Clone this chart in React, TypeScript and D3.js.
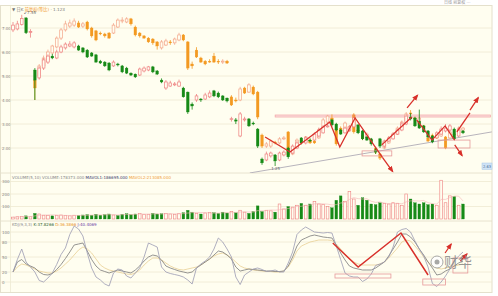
import React from 'react';
import * as d3 from 'd3';

type C = [number, number, number, number] | null; // [open, high, low, close]

// Stock candles (green = down, pink hollow = up)
const stockCandles: C[] = [
  [6.92,7.25,6.83,7.12],[6.96,7.3,6.9,7.17],[7.15,7.55,7.1,7.4],[7.42,7.45,6.75,6.8],[6.83,6.95,6.6,6.85],
  [5.25,5.33,4.0,4.83],[4.92,5.4,4.85,5.33],[5.33,5.75,5.25,5.67],[5.58,5.9,5.5,5.83],[5.83,5.92,5.7,5.75],
  [5.75,6.1,5.7,6.0],[6.0,6.3,5.95,6.21],[6.17,6.4,6.1,6.33],[6.25,6.45,6.2,6.33],[6.21,6.45,6.15,6.38],
  [6.25,6.3,6.05,6.08],[6.17,6.2,5.95,6.0],[6.08,6.12,5.75,5.79],[5.96,6.0,5.8,5.83],[5.88,5.92,5.55,5.58],
  [5.62,5.67,5.5,5.54],[5.58,5.62,5.38,5.42],[5.54,5.58,5.2,5.25],[5.42,5.65,5.38,5.58],[5.5,5.55,5.4,5.46],
  [5.42,5.46,5.12,5.17],[5.33,5.38,5.08,5.12],[5.12,5.15,5.0,5.04],[5.08,5.1,4.92,4.96],[5.04,5.35,5.0,5.29],
  [5.21,5.4,5.15,5.33],[5.25,5.42,5.2,5.38],[5.38,5.42,5.12,5.17],[5.21,5.25,5.04,5.08],[4.83,4.9,4.7,4.75],
  [4.5,4.83,4.42,4.75],[4.58,4.8,4.55,4.71],[4.63,4.75,4.58,4.67],[4.58,4.85,4.55,4.75],[4.5,4.55,4.1,4.13],
  [4.33,4.35,3.42,3.5],[3.83,3.9,3.6,3.75],[4.0,4.25,3.92,4.17],[4.04,4.08,3.92,4.0],[4.04,4.3,4.0,4.21],
  [4.13,4.4,4.08,4.29],[4.38,4.42,4.12,4.17],[4.29,4.35,4.08,4.13],[4.17,4.2,3.96,4.0],[4.08,4.1,3.9,3.96],
  [3.2,3.3,3.1,3.22],[3.17,3.25,3.0,3.12],[2.5,3.5,2.45,3.42],[3.17,3.3,3.1,3.21],[3.21,3.25,2.88,2.92],
  [3.04,3.1,2.95,3.0],[2.79,2.83,2.0,2.08],[1.54,1.6,1.3,1.38],[1.5,1.85,1.45,1.75],[1.67,1.85,1.6,1.79],
  [1.71,1.75,1.25,1.46],[1.5,1.85,1.45,1.79],[1.71,1.9,1.65,1.83],[2.0,2.05,1.55,1.63],[1.79,2.15,1.75,2.08],
  [2.0,2.3,1.95,2.21],[2.42,2.45,2.15,2.21],[2.21,2.5,2.15,2.42],[2.33,2.4,2.25,2.29],[2.33,2.65,2.3,2.58],
  [2.5,2.85,2.45,2.75],[2.63,2.95,2.6,2.88],[2.88,3.0,2.85,2.92],[3.17,3.2,2.9,2.96],[3.0,3.05,2.7,2.75],
  [2.75,2.8,2.55,2.58],[2.63,2.9,2.6,2.83],[2.75,2.95,2.7,2.88],[2.88,3.4,2.85,3.25],[2.96,3.0,2.58,2.63],
  [2.71,2.75,2.33,2.38],[2.46,2.5,2.3,2.33],[2.38,2.42,2.1,2.17],[1.92,2.0,1.75,1.83],[2.38,2.42,2.0,2.08],
  [2.08,2.35,2.0,2.29],[2.29,2.5,2.25,2.42],[2.38,2.65,2.35,2.58],[2.58,2.8,2.55,2.75],[2.75,3.1,2.7,3.0],
  [3.0,3.42,2.95,3.33],[3.29,3.45,3.15,3.21],[3.25,3.3,2.88,2.92],[3.12,3.6,2.8,2.83],[2.92,2.96,2.63,2.67],
  [2.71,2.75,2.42,2.46],[2.5,2.54,2.2,2.25],[2.42,2.7,2.38,2.63],[2.58,2.9,2.55,2.79],[2.71,3.0,2.65,2.83],
  [2.75,3.0,2.7,2.92],[2.79,2.85,2.33,2.38],[2.5,2.85,2.45,2.75],[2.71,2.75,2.58,2.63],
];

// Overlay candles (orange = down, salmon hollow = up)
const overlayCandles: C[] = [
  null,null,null,null,null,
  [4.83,4.9,4.0,4.5],[5.0,5.5,4.9,5.42],[5.42,5.85,5.35,5.75],[5.67,6.1,5.6,6.0],[5.96,6.3,5.9,6.25],
  [6.21,6.65,6.15,6.58],[6.58,7.0,6.5,6.92],[6.92,7.3,6.85,7.17],[7.08,7.35,7.0,7.21],[7.12,7.4,7.05,7.29],
  [7.21,7.3,7.0,7.04],[7.08,7.25,7.0,7.17],[7.25,7.3,6.9,6.96],[7.0,7.05,6.6,6.67],[6.88,6.92,6.45,6.5],
  [6.79,6.85,6.7,6.75],[6.75,6.8,6.6,6.67],[6.79,6.83,6.55,6.58],[6.79,7.2,6.75,7.12],[7.04,7.4,7.0,7.33],
  [7.29,7.45,7.2,7.33],[7.25,7.45,7.2,7.38],[7.38,7.42,7.1,7.17],[7.04,7.1,6.65,6.71],[6.79,6.83,6.6,6.67],
  [6.67,6.7,6.55,6.58],[6.58,6.62,6.38,6.42],[6.54,6.58,6.3,6.38],[6.42,6.45,6.1,6.25],[6.17,6.5,6.1,6.42],
  [6.29,6.55,6.25,6.46],[6.42,6.5,6.3,6.38],[6.38,6.6,6.3,6.54],[6.5,6.8,6.45,6.71],[6.71,6.75,6.45,6.5],
  [6.42,6.45,5.25,5.33],[5.5,5.6,5.3,5.42],[6.08,6.2,5.75,5.79],[5.75,5.8,5.55,5.58],[5.62,5.66,5.45,5.5],
  [5.62,5.7,5.55,5.58],[5.83,5.96,5.55,5.58],[5.62,5.7,5.5,5.58],[5.58,5.7,5.5,5.62],[5.62,5.67,5.5,5.54],
  [4.13,4.2,3.75,3.79],[4.0,4.1,3.9,3.96],[4.0,4.55,3.95,4.46],[4.5,4.55,4.25,4.29],[4.33,4.7,4.3,4.63],
  [4.54,4.6,4.2,4.25],[4.33,4.38,3.2,3.29],[2.54,2.6,2.0,2.08],[2.08,2.25,2.0,2.17],[2.08,2.35,2.0,2.29],
  [2.25,2.3,2.15,2.21],[2.21,2.45,2.15,2.38],[2.38,2.5,2.33,2.42],[2.67,2.7,1.63,1.71],[1.75,2.1,1.7,2.04],
  [2.04,2.4,2.0,2.33],[2.33,2.4,2.25,2.29],[2.25,2.5,2.2,2.46],[2.33,2.38,2.17,2.21],[2.29,2.33,2.17,2.21],
  [2.42,2.83,2.38,2.75],[2.83,3.25,2.8,3.17],[3.08,3.38,3.04,3.33],[3.25,3.4,3.1,3.17],[2.79,2.85,2.1,2.17],
  [2.83,2.9,2.67,2.71],[2.83,3.1,2.79,3.04],[2.71,2.95,2.67,2.88],[3.38,3.45,2.6,2.67],[2.75,2.8,2.65,2.71],
  [2.54,2.6,2.33,2.38],[2.42,2.65,2.38,2.58],[2.33,2.4,2.25,2.29],[2.0,2.05,1.75,1.83],[1.75,1.8,1.5,1.58],
  [2.0,2.3,1.95,2.21],[2.21,2.45,2.17,2.38],[2.46,2.65,2.42,2.58],[2.58,2.9,2.54,2.83],[2.88,3.15,2.83,3.08],
  [3.13,3.5,3.08,3.42],[3.46,3.58,3.38,3.42],[3.25,3.3,3.15,3.21],[3.0,3.3,2.96,3.25],[2.92,2.96,2.83,2.88],
  [2.42,2.46,2.25,2.29],[2.54,2.6,2.46,2.5],[2.54,2.58,2.38,2.42],[2.5,2.8,2.46,2.71],[2.46,2.5,1.95,2.0],
  [2.42,2.75,2.38,2.67],[2.58,2.62,2.5,2.54],[2.63,2.9,2.6,2.83],[2.75,2.88,2.7,2.83],
];

const volumes: number[] = [
  15,18,20,25,18,45,40,30,28,25,30,32,28,25,30,28,32,35,30,38,
  30,35,40,32,28,38,42,35,40,45,35,38,45,40,42,45,40,38,42,50,
  70,55,45,40,48,52,50,45,55,48,60,50,70,55,45,60,105,60,70,65,
  55,120,80,100,95,110,125,110,120,140,120,115,100,90,150,185,140,220,160,110,
  170,150,120,115,130,125,120,130,125,110,200,160,130,120,130,115,120,110,310,130,
  185,180,110,120,
];

const kValues: number[] = [
  20,40,45,36,32,28,20,15,14,17,25,35,47,60,74,76,78,62,45,32,
  24,21,18,21,24,22,20,18,24,32,42,50,54,52,44,32,28,25,22,20,
  18,20,28,34,40,46,54,62,60,54,46,30,22,24,26,25,24,23,22,22,
  21,21,22,32,50,72,84,88,92,94,92,90,89,88,74,58,44,32,28,26,
  24,24,24,28,34,40,52,66,80,96,96,90,80,66,54,40,28,14,16,22,
  26,32,38,42,
];
const dValues: number[] = [
  20,30,36,34,30,26,22,20,18,18,22,28,36,44,54,64,70,66,58,46,
  34,28,24,22,20,18,16,15,18,24,34,42,48,48,44,38,32,28,25,24,
  26,28,30,34,40,46,52,56,58,54,48,40,32,28,26,24,23,22,21,21,
  20,20,22,30,44,62,72,76,80,82,84,84,84,83,76,66,56,46,40,36,
  34,34,34,34,36,40,48,58,68,80,84,82,72,62,50,40,32,28,26,28,
  30,32,34,36,
];
const jValues: number[] = [
  20,45,66,40,30,20,3,0,8,18,35,55,68,95,112,106,92,58,28,10,
  4,-4,-8,18,26,24,12,8,18,28,50,78,74,70,30,20,17,15,13,10,
  4,-4,28,36,42,50,66,88,80,66,50,10,-5,14,20,26,28,25,21,22,
  24,20,20,38,60,95,104,110,105,100,99,98,99,98,72,45,18,12,10,10,
  1,6,16,33,36,40,50,70,100,105,107,100,82,66,52,30,-3,-9,0,12,
  26,42,52,60,
];

const priceTicks = [7, 6, 5, 4, 3, 2];
const volTicks = [100, 200, 300];
const kdjTicks = [0, 20, 50, 80, 100];

// annotation drawings, in (index, value) coordinates
const mainPolylines: [number, number][][] = [
  [[57.7,2.46],[63.4,1.83],[72.5,3.08],[74.8,2.04],[78.3,3.25],[84.6,1.6]],
  [[84.4,2.13],[91.3,3.29]],
  [[92.4,3.17],[95.9,2.33],[98.9,2.92],[101.1,2.33]],
  [[101.6,2.67],[104.6,3.46]],
];
const mainArrows: [number, number][][] = [
  [[84.6,1.6],[86.9,1.02]],
  [[90.2,3.67],[92.6,4.2]],
  [[101.1,2.13],[102.8,1.68]],
  [[104.6,3.58],[106.5,4.1]],
];
const mainBoxes: [number, number][][] = [
  [[79.9,1.88],[86.7,1.67]],
  [[97.3,2.33],[104.6,2.0]],
];
const resistanceBand: [number, number][] = [[60, 3.375], [109.3, 3.29]];
const supportLine: [number, number][] = [[54.2, 0.96], [109.6, 2.67]];

const kdjPolylines: [number, number][][] = [
  [[73.2,78],[79,30],[88.8,98],[95,14]],
];
const kdjArrows: [number, number][][] = [
  [[98.9,58],[100.3,76]],
  [[102.4,42],[103.9,56]],
];
const kdjBoxes: [number, number][][] = [
  [[73.7,16],[86.5,8]],
  [[93.8,6],[99,-6]],
  [[100.7,48],[104.1,18]],
];

const BG = '#fffef0';
const GRID = '#efead2';
const STOCK_UP = '#ee8080';
const STOCK_DN = '#178a17';
const OVL_UP = '#f4a68a';
const OVL_DN = '#f39a22';
const RED = '#d8302a';
const FONT = '"DejaVu Sans", "Noto Sans CJK SC", sans-serif';

const n = stockCandles.length;
const x = d3.scaleLinear().domain([0, n - 1]).range([13, 463]);
const yP = d3.scaleLinear().domain([7, 2]).range([28, 148]);
const yV = d3.scaleLinear().domain([0, 300]).range([219, 181.5]);
const yK = d3.scaleLinear().domain([0, 100]).range([282, 232]);

function Candles({ data, up, down }: { data: C[]; up: string; down: string }) {
  return (
    <g>
      {data.map((d, i) => {
        if (!d) return null;
        const [o, h, l, c] = d;
        const cx = x(i);
        const isUp = c >= o;
        const col = isUp ? up : down;
        const top = yP(Math.max(o, c));
        const bot = yP(Math.min(o, c));
        return (
          <g key={i}>
            <line x1={cx} x2={cx} y1={yP(h)} y2={yP(l)} stroke={col} strokeWidth={0.8} />
            <rect x={cx - 1.35} y={top} width={2.7} height={Math.max(bot - top, 0.8)}
              fill={isUp ? BG : col} stroke={col} strokeWidth={isUp ? 0.7 : 0.3} />
          </g>
        );
      })}
    </g>
  );
}

export default function App() {
  const mainLine = d3.line<[number, number]>().x(d => x(d[0])).y(d => yP(d[1]));
  const kdjLine = d3.line<[number, number]>().x(d => x(d[0])).y(d => yK(d[1]));
  const kdjSeries = (vals: number[]) => d3.line<number>().x((_, i) => x(i)).y(v => yK(v))(vals) || '';
  const volMA = volumes.map((_, i) => d3.mean(volumes.slice(Math.max(0, i - 4), i + 1)) as number);
  const volMAPath = d3.line<number>().x((_, i) => x(i)).y(v => yV(v)).curve(d3.curveLinear)(volMA) || '';

  const maxIdx = d3.maxIndex(stockCandles, d => (d ? d[1] : -Infinity));
  const minIdx = d3.minIndex(stockCandles, d => (d ? d[2] : Infinity));
  const maxC = stockCandles[maxIdx]!;
  const minC = stockCandles[minIdx]!;

  const box = (b: [number, number][], ys: (v: number) => number, key: number, stroke: string, fill = 'none') => {
    const x0 = x(b[0][0]), x1 = x(b[1][0]);
    const y0 = ys(b[0][1]), y1 = ys(b[1][1]);
    return <rect key={key} x={Math.min(x0, x1)} y={Math.min(y0, y1)} width={Math.abs(x1 - x0)}
      height={Math.abs(y1 - y0)} fill={fill} stroke={stroke} strokeWidth={0.8} />;
  };

  return (
    <svg width={498} height={296} style={{ position: 'fixed', left: 0, top: 0, fontFamily: FONT }}>
      <defs>
        <marker id="ah" viewBox="0 0 10 10" refX="8" refY="5" markerWidth="5" markerHeight="5" orient="auto-start-reverse">
          <path d="M0,1 L10,5 L0,9 z" fill={RED} />
        </marker>
        <clipPath id="mainClip"><rect x={1} y={6} width={491} height={167} /></clipPath>
        <clipPath id="kdjClip"><rect x={1} y={222} width={491} height={70} /></clipPath>
      </defs>
      <rect x={0} y={0} width={498} height={296} fill="#ffffff" />
      <rect x={0.5} y={5.5} width={491.5} height={287} fill={BG} stroke="#e4e0cc" strokeWidth={1} />
      <text x={444} y={4} fontSize={4} fill="#999">日线  前复权  ⋯</text>

      {/* main grid */}
      {priceTicks.map(t => (
        <g key={t}>
          <line x1={1} x2={492} y1={yP(t)} y2={yP(t)} stroke={GRID} strokeWidth={0.8} />
          <text x={2} y={yP(t) + 1.5} fontSize={4} fill="#888">{t.toFixed(2)}</text>
        </g>
      ))}
      <line x1={10.5} x2={10.5} y1={6} y2={292} stroke="#ebe6cf" strokeWidth={0.7} />
      <line x1={1} x2={492} y1={173} y2={173} stroke="#e2ddc6" strokeWidth={0.8} />
      <line x1={1} x2={492} y1={221} y2={221} stroke="#e2ddc6" strokeWidth={0.8} />

      <text x={12} y={10.5} fontSize={4.2} fill="#777">
        ▼ 日K <tspan fill="#f0952a">前复权(等比)</tspan> · 1.123
      </text>

      <g clipPath="url(#mainClip)">
        <rect x={x(resistanceBand[0][0])} y={yP(resistanceBand[0][1])}
          width={x(resistanceBand[1][0]) - x(resistanceBand[0][0])}
          height={yP(resistanceBand[1][1]) - yP(resistanceBand[0][1])}
          fill="#fbdede" stroke="#f2a4a4" strokeWidth={0.7} />
        <path d={mainLine(supportLine) || ''} stroke="#b8b4bc" strokeWidth={1} fill="none" />
        <Candles data={overlayCandles} up={OVL_UP} down={OVL_DN} />
        <Candles data={stockCandles} up={STOCK_UP} down={STOCK_DN} />
        {mainBoxes.map((b, i) => box(b, yP, i, '#e69a9a'))}
        {mainPolylines.map((p, i) => (
          <path key={i} d={mainLine(p) || ''} stroke={RED} strokeWidth={1.3} fill="none" />
        ))}
        {mainArrows.map((p, i) => (
          <path key={i} d={mainLine(p) || ''} stroke={RED} strokeWidth={1.3} fill="none" markerEnd="url(#ah)" />
        ))}
      </g>
      <text x={x(maxIdx) + 2} y={yP(maxC[1]) - 0.5} fontSize={4} fill="#666">↙{maxC[1].toFixed(2)}</text>
      <text x={x(minIdx) - 4} y={yP(minC[2]) + 4} fontSize={4} fill="#666">{minC[2].toFixed(2)}</text>
      <rect x={482} y={163} width={10} height={6.5} fill="#cfe3f6" stroke="#a9c8e6" strokeWidth={0.5} />
      <text x={483} y={167.8} fontSize={3.6} fill="#4a6a90">{stockCandles[n - 1]![3].toFixed(2)}</text>

      {/* volume */}
      {volTicks.map(t => (
        <g key={t}>
          <line x1={1} x2={492} y1={yV(t)} y2={yV(t)} stroke={GRID} strokeWidth={0.8} />
          <text x={2} y={yV(t) + 1.5} fontSize={4} fill="#888">{t}</text>
        </g>
      ))}
      <text x={12} y={178.5} fontSize={4} fill="#888">
        VOLUME(5,10) VOLUME:178373.000 <tspan fill="#3b3b6b">MAVOL1:186695.000</tspan>{' '}
        <tspan fill="#f0a040">MAVOL2:213085.000</tspan>
      </text>
      {volumes.map((v, i) => {
        const d = stockCandles[i]!;
        const isUp = d[3] >= d[0];
        const col = isUp ? STOCK_UP : STOCK_DN;
        return (
          <rect key={i} x={x(i) - 1.35} y={yV(v)} width={2.7} height={yV(0) - yV(v)}
            fill={isUp ? BG : col} stroke={col} strokeWidth={isUp ? 0.6 : 0.3} />
        );
      })}
      <path d={volMAPath} stroke="#f3b6b6" strokeWidth={0.6} fill="none" />

      {/* KDJ */}
      {kdjTicks.map(t => (
        <g key={t}>
          <line x1={1} x2={492} y1={yK(t)} y2={yK(t)} stroke={GRID} strokeWidth={0.8} />
          <text x={2} y={yK(t) + 1.5} fontSize={4} fill="#888">{t}</text>
        </g>
      ))}
      <text x={12} y={225.5} fontSize={4} fill="#888">
        KDJ(9,3,3) <tspan fill="#2f5f2f">K:37.8266</tspan> <tspan fill="#e8901e">D:36.3866</tspan>{' '}
        <tspan fill="#6a3aa0">J:40.4069</tspan>
      </text>
      <g clipPath="url(#kdjClip)">
        <path d={kdjSeries(dValues)} stroke="#e8cf94" strokeWidth={0.8} fill="none" />
        <path d={kdjSeries(kValues)} stroke="#7a7a7a" strokeWidth={0.8} fill="none" />
        <path d={kdjSeries(jValues)} stroke="#9a9ab2" strokeWidth={0.8} fill="none" />
        {kdjBoxes.map((b, i) => box(b, yK, i, '#e69a9a'))}
        {kdjPolylines.map((p, i) => (
          <path key={i} d={kdjLine(p) || ''} stroke={RED} strokeWidth={1.5} fill="none" />
        ))}
        {kdjArrows.map((p, i) => (
          <path key={i} d={kdjLine(p) || ''} stroke={RED} strokeWidth={1.3} fill="none" markerEnd="url(#ah)" />
        ))}
      </g>
      <g opacity={0.85}>
        <circle cx={437} cy={262} r={6} fill="#ffffff" stroke="#9a9a9a" strokeWidth={1} />
        <circle cx={437} cy={262} r={2.5} fill="#9a9a9a" />
        <text x={444} y={267} fontSize={14} fill="#8a8a8a" fontFamily='"Noto Sans CJK SC", sans-serif'>财华</text>
      </g>
    </svg>
  );
}
